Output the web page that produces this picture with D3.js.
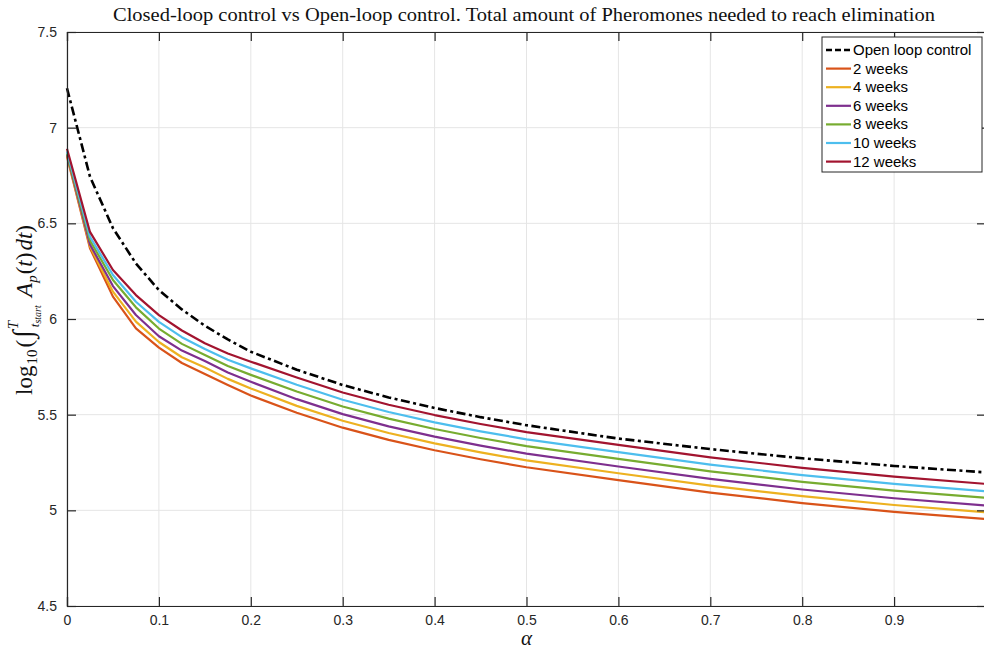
<!DOCTYPE html>
<html>
<head>
<meta charset="utf-8">
<script src="https://cdn.jsdelivr.net/npm/d3@7"></script>
<style>
  body { margin: 0; background: #fff; }
  svg { display: block; }
</style>
</head>
<body>
<svg width="984" height="650"></svg>
<script>
// alpha values where the curves were read
const alpha = [0, 0.025, 0.05, 0.075, 0.1, 0.125, 0.15, 0.175, 0.2, 0.25, 0.3, 0.35, 0.4, 0.45, 0.5, 0.6, 0.7, 0.8, 0.9, 1.0];

const openLoop = [7.206, 6.744, 6.475, 6.29, 6.151, 6.05, 5.965, 5.893, 5.829, 5.735, 5.655, 5.59, 5.535, 5.487, 5.445, 5.375, 5.32, 5.272, 5.232, 5.198];
const weeks2  = [6.85, 6.37, 6.117, 5.951, 5.85, 5.77, 5.712, 5.655, 5.60, 5.51, 5.432, 5.368, 5.314, 5.267, 5.225, 5.158, 5.093, 5.038, 4.992, 4.954];
const weeks4  = [6.855, 6.38, 6.143, 5.986, 5.88, 5.80, 5.747, 5.687, 5.637, 5.546, 5.468, 5.404, 5.35, 5.303, 5.261, 5.194, 5.129, 5.074, 5.028, 4.99];
const weeks6  = [6.86, 6.39, 6.172, 6.021, 5.91, 5.835, 5.78, 5.72, 5.672, 5.581, 5.503, 5.439, 5.385, 5.338, 5.296, 5.229, 5.164, 5.109, 5.063, 5.025];
const weeks8  = [6.865, 6.41, 6.204, 6.061, 5.95, 5.87, 5.812, 5.754, 5.708, 5.621, 5.543, 5.479, 5.425, 5.378, 5.336, 5.269, 5.204, 5.149, 5.103, 5.066];
const weeks10 = [6.875, 6.43, 6.23, 6.09, 5.985, 5.905, 5.843, 5.787, 5.742, 5.656, 5.578, 5.514, 5.46, 5.413, 5.371, 5.304, 5.239, 5.184, 5.138, 5.10];
const weeks12 = [6.89, 6.455, 6.256, 6.125, 6.02, 5.94, 5.873, 5.82, 5.777, 5.694, 5.616, 5.552, 5.498, 5.451, 5.409, 5.342, 5.277, 5.222, 5.176, 5.138];

const seriesNames = ["Open loop control", "2 weeks", "4 weeks", "6 weeks", "8 weeks", "10 weeks", "12 weeks"];
const seriesValues = [openLoop, weeks2, weeks4, weeks6, weeks8, weeks10, weeks12];
const seriesColors = ["#000000", "#D95319", "#EDB120", "#7E2F8E", "#77AC30", "#4DBEEE", "#A2142F"];

const xTicks = [0, 0.1, 0.2, 0.3, 0.4, 0.5, 0.6, 0.7, 0.8, 0.9, 1];
const yTicks = [4.5, 5, 5.5, 6, 6.5, 7, 7.5];

const pLeft = 67, pRight = 986, pTop = 32, pBottom = 606;
const svg = d3.select("svg");

const x = d3.scaleLinear().domain([0, 1]).range([pLeft, pRight]);
const y = d3.scaleLinear().domain([4.5, 7.5]).range([pBottom, pTop]);

//grid
const grid = svg.append("g");
grid.selectAll(".gx").data(xTicks).enter().append("line")
    .attr("x1", d => x(d)).attr("x2", d => x(d))
    .attr("y1", pTop).attr("y2", pBottom)
    .attr("stroke", "#e5e5e5").attr("stroke-width", 1);
grid.selectAll(".gy").data(yTicks).enter().append("line")
    .attr("x1", pLeft).attr("x2", pRight)
    .attr("y1", d => y(d)).attr("y2", d => y(d))
    .attr("stroke", "#e5e5e5").attr("stroke-width", 1);

//curves
const line = d3.line()
    .x((d, i) => x(alpha[i]))
    .y(d => y(d));

seriesValues.forEach((vals, idx) => {
    svg.append("path")
        .datum(vals)
        .attr("d", line)
        .attr("fill", "none")
        .attr("stroke", seriesColors[idx])
        .attr("stroke-width", idx == 0 ? 2.6 : 2.2)
        .attr("stroke-dasharray", idx == 0 ? "9,3.5,3,3.5" : null)
        .attr("stroke-linejoin", "round");
});

//axes, ticks inward on all sides
const tickLen = 9;
const axisColor = "#262626";
const font = "'Liberation Sans', Arial, sans-serif";

// the label for 1 falls outside the picture in the original
const xAxis = d3.axisBottom(x).tickValues(xTicks).tickSize(-tickLen).tickPadding(9)
    .tickFormat(d => d == 1 ? "" : d3.format("")(d));
const gx = svg.append("g").attr("transform", `translate(0,${pBottom})`).call(xAxis);
gx.selectAll("text").attr("font-size", 14).attr("font-family", font).attr("fill", axisColor);

const yAxis = d3.axisLeft(y).tickValues(yTicks).tickSize(-tickLen).tickPadding(10)
    .tickFormat(d3.format(""));
const gy = svg.append("g").attr("transform", `translate(${pLeft},0)`).call(yAxis);
gy.selectAll("text").attr("font-size", 14).attr("font-family", font).attr("fill", axisColor);

svg.append("g").attr("transform", `translate(0,${pTop})`)
    .call(d3.axisTop(x).tickValues(xTicks).tickSize(-tickLen).tickFormat(""));
svg.append("g").attr("transform", `translate(${pRight},0)`)
    .call(d3.axisRight(y).tickValues(yTicks).tickSize(-tickLen).tickFormat(""));

svg.selectAll(".domain").attr("stroke", axisColor).attr("stroke-width", 1.2);
svg.selectAll(".tick line").attr("stroke", axisColor).attr("stroke-width", 1.2);

//title
svg.append("text")
    .attr("x", 113)
    .attr("y", 21)
    .attr("font-family", "'Liberation Serif', 'DejaVu Serif', serif")
    .attr("font-size", 19)
    .attr("textLength", 822)
    .attr("lengthAdjust", "spacingAndGlyphs")
    .attr("fill", "#111")
    .text("Closed-loop control vs Open-loop control. Total amount of Pheromones needed to reach elimination");

//x label
svg.append("text")
    .attr("x", (pLeft + pRight) / 2)
    .attr("y", 645)
    .attr("text-anchor", "middle")
    .attr("font-family", "'Liberation Serif', serif")
    .attr("font-style", "italic")
    .attr("font-size", 21)
    .attr("fill", "#111")
    .text("α");

//y label
const serif = "'Liberation Serif', 'DejaVu Serif', serif";
const yl = svg.append("text")
    .attr("transform", `translate(32,310) rotate(-90)`)
    .attr("text-anchor", "middle")
    .attr("font-family", serif)
    .attr("font-size", 23)
    .attr("fill", "#111");
yl.append("tspan").text("log");
yl.append("tspan").attr("font-size", 15).attr("dy", 5).attr("dx", 1).text("10");
yl.append("tspan").attr("dy", -5).attr("dx", 2).text("(");
yl.append("tspan").attr("font-size", 28).attr("dx", 2).text("∫");
yl.append("tspan").attr("font-style", "italic").attr("font-size", 13).attr("dy", 7).attr("dx", 3).text("t");
yl.append("tspan").attr("font-style", "italic").attr("font-size", 10).attr("dy", 2).text("start");
yl.append("tspan").attr("font-style", "italic").attr("font-size", 15).attr("dy", -23).attr("dx", -24).text("T");
yl.append("tspan").attr("dy", 14).attr("dx", 24).attr("font-style", "italic").text("A");
yl.append("tspan").attr("font-style", "italic").attr("font-size", 15).attr("dy", 5).text("p");
yl.append("tspan").attr("dy", -5).attr("dx", 1).text("(");
yl.append("tspan").attr("font-style", "italic").text("t");
yl.append("tspan").text(")");
yl.append("tspan").attr("font-style", "italic").attr("dx", 2).text("dt");
yl.append("tspan").text(")");

//legend
const lgX = 822, lgY = 37, lgW = 160, lgH = 135, rowH = 18.6;
const lg = svg.append("g");
lg.append("rect")
    .attr("x", lgX).attr("y", lgY).attr("width", lgW).attr("height", lgH)
    .attr("fill", "#fff").attr("stroke", axisColor).attr("stroke-width", 1);
seriesNames.forEach((name, idx) => {
    const cy = lgY + 13 + idx * rowH;
    lg.append("line")
        .attr("x1", lgX + 4).attr("x2", lgX + 29)
        .attr("y1", cy).attr("y2", cy)
        .attr("stroke", seriesColors[idx])
        .attr("stroke-width", idx == 0 ? 2.6 : 2.2)
        .attr("stroke-dasharray", idx == 0 ? "6,3" : null);
    lg.append("text")
        .attr("x", lgX + 31).attr("y", cy + 5)
        .attr("font-family", font).attr("font-size", 15)
        .attr("fill", "#000")
        .text(name);
});
</script>
</body>
</html>
